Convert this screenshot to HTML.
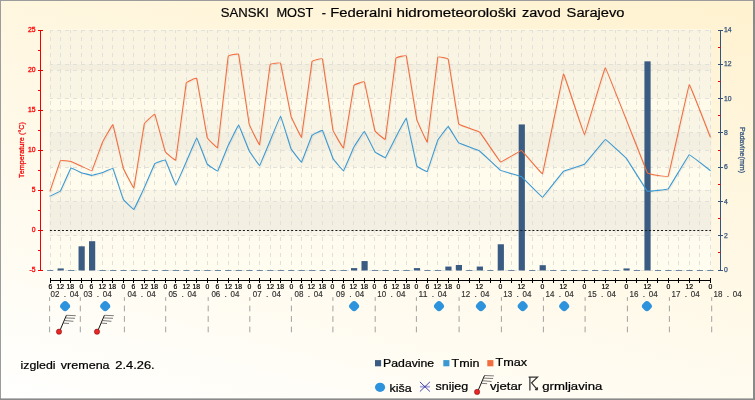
<!DOCTYPE html>
<html><head><meta charset="utf-8"><title>SANSKI MOST</title>
<style>
html,body{margin:0;padding:0;background:#fff;}
body{width:755px;height:400px;overflow:hidden;font-family:"Liberation Sans",sans-serif;}
svg{display:block;font-family:"Liberation Sans",sans-serif;}
</style></head><body>
<svg width="755" height="400" viewBox="0 0 755 400" style="will-change:transform">
<defs>
<linearGradient id="bg" gradientUnits="userSpaceOnUse" x1="0" y1="400" x2="138.1" y2="-153.7">
<stop offset="0" stop-color="#fffffe"/><stop offset="1" stop-color="#fff2d0"/></linearGradient>
<linearGradient id="pbg" x1="0" y1="0" x2="0" y2="1"><stop offset="0" stop-color="#fffae8"/><stop offset="1" stop-color="#fffcf0"/></linearGradient>
</defs>

<rect x="0" y="0" width="755" height="400" fill="url(#bg)"/>
<rect x="0" y="0" width="755" height="1" fill="#9c9c9c"/>
<rect x="0" y="0" width="1" height="400" fill="#9c9c9c"/>
<rect x="753" y="0" width="2" height="400" fill="#8a8a8a"/>
<rect x="0" y="398.4" width="755" height="1.6" fill="#8a8a8a"/>
<g>
<rect x="49.7" y="29.2" width="661.6" height="241.3" fill="url(#pbg)"/>
<rect x="49.7" y="30.0" width="661.6" height="40" fill="rgba(110,110,100,0.04)"/>
<rect x="49.7" y="110.0" width="661.6" height="40" fill="rgba(110,110,100,0.04)"/>
<rect x="49.7" y="190.0" width="661.6" height="40" fill="rgba(110,110,100,0.04)"/>
<rect x="49.7" y="64.29" width="661.6" height="34.29" fill="rgba(110,110,100,0.04)"/>
<rect x="49.7" y="132.86" width="661.6" height="34.29" fill="rgba(110,110,100,0.04)"/>
<rect x="49.7" y="201.43" width="661.6" height="34.29" fill="rgba(110,110,100,0.04)"/>
</g>
<g stroke="#e1e0d9" stroke-width="1" fill="none" stroke-dasharray="4 4" stroke-dashoffset="1">
<path d="M50.5 30 V270"/>
<path d="M60.5 30 V270"/>
<path d="M70.5 30 V270"/>
<path d="M81.5 30 V270"/>
<path d="M91.5 30 V270"/>
<path d="M102.5 30 V270"/>
<path d="M112.5 30 V270"/>
<path d="M123.5 30 V270"/>
<path d="M133.5 30 V270"/>
<path d="M144.5 30 V270"/>
<path d="M154.5 30 V270"/>
<path d="M165.5 30 V270"/>
<path d="M175.5 30 V270"/>
<path d="M186.5 30 V270"/>
<path d="M196.5 30 V270"/>
<path d="M207.5 30 V270"/>
<path d="M217.5 30 V270"/>
<path d="M228.5 30 V270"/>
<path d="M238.5 30 V270"/>
<path d="M249.5 30 V270"/>
<path d="M259.5 30 V270"/>
<path d="M270.5 30 V270"/>
<path d="M280.5 30 V270"/>
<path d="M291.5 30 V270"/>
<path d="M301.5 30 V270"/>
<path d="M311.5 30 V270"/>
<path d="M322.5 30 V270"/>
<path d="M332.5 30 V270"/>
<path d="M343.5 30 V270"/>
<path d="M353.5 30 V270"/>
<path d="M364.5 30 V270"/>
<path d="M374.5 30 V270"/>
<path d="M385.5 30 V270"/>
<path d="M395.5 30 V270"/>
<path d="M406.5 30 V270"/>
<path d="M416.5 30 V270"/>
<path d="M427.5 30 V270"/>
<path d="M437.5 30 V270"/>
<path d="M448.5 30 V270"/>
<path d="M458.5 30 V270"/>
<path d="M469.5 30 V270"/>
<path d="M479.5 30 V270"/>
<path d="M490.5 30 V270"/>
<path d="M500.5 30 V270"/>
<path d="M511.5 30 V270"/>
<path d="M521.5 30 V270"/>
<path d="M532.5 30 V270"/>
<path d="M542.5 30 V270"/>
<path d="M553.5 30 V270"/>
<path d="M563.5 30 V270"/>
<path d="M573.5 30 V270"/>
<path d="M584.5 30 V270"/>
<path d="M594.5 30 V270"/>
<path d="M605.5 30 V270"/>
<path d="M615.5 30 V270"/>
<path d="M626.5 30 V270"/>
<path d="M636.5 30 V270"/>
<path d="M647.5 30 V270"/>
<path d="M657.5 30 V270"/>
<path d="M668.5 30 V270"/>
<path d="M678.5 30 V270"/>
<path d="M689.5 30 V270"/>
<path d="M699.5 30 V270"/>
<path d="M710.5 30 V270"/>
<path d="M50 30.5 H711.1"/>
<path d="M50 64.5 H711.1"/>
<path d="M50 70.5 H711.1"/>
<path d="M50 98.5 H711.1"/>
<path d="M50 110.5 H711.1"/>
<path d="M50 132.5 H711.1"/>
<path d="M50 150.5 H711.1"/>
<path d="M50 167.5 H711.1"/>
<path d="M50 190.5 H711.1"/>
<path d="M50 201.5 H711.1"/>
<path d="M50 230.5 H711.1"/>
<path d="M50 235.5 H711.1"/>
<path d="M50 270.5 H711.1"/>
</g>
<g fill="#3a5b82">
<rect x="47.10" y="270" width="6.2" height="0.8" fill="#4d6c92"/>
<rect x="57.58" y="268.44" width="6.2" height="2.06"/>
<rect x="68.06" y="270" width="6.2" height="0.8" fill="#4d6c92"/>
<rect x="78.54" y="246.33" width="6.2" height="24.17"/>
<rect x="89.02" y="241.19" width="6.2" height="29.31"/>
<rect x="99.50" y="270" width="6.2" height="0.8" fill="#4d6c92"/>
<rect x="109.98" y="270" width="6.2" height="0.8" fill="#4d6c92"/>
<rect x="120.46" y="270" width="6.2" height="0.8" fill="#4d6c92"/>
<rect x="130.93" y="270" width="6.2" height="0.8" fill="#4d6c92"/>
<rect x="141.41" y="270" width="6.2" height="0.8" fill="#4d6c92"/>
<rect x="151.89" y="270" width="6.2" height="0.8" fill="#4d6c92"/>
<rect x="162.37" y="270" width="6.2" height="0.8" fill="#4d6c92"/>
<rect x="172.85" y="270" width="6.2" height="0.8" fill="#4d6c92"/>
<rect x="183.33" y="270" width="6.2" height="0.8" fill="#4d6c92"/>
<rect x="193.81" y="270" width="6.2" height="0.8" fill="#4d6c92"/>
<rect x="204.29" y="270" width="6.2" height="0.8" fill="#4d6c92"/>
<rect x="214.77" y="270" width="6.2" height="0.8" fill="#4d6c92"/>
<rect x="225.25" y="270" width="6.2" height="0.8" fill="#4d6c92"/>
<rect x="235.73" y="270" width="6.2" height="0.8" fill="#4d6c92"/>
<rect x="246.21" y="270" width="6.2" height="0.8" fill="#4d6c92"/>
<rect x="256.69" y="270" width="6.2" height="0.8" fill="#4d6c92"/>
<rect x="267.17" y="270" width="6.2" height="0.8" fill="#4d6c92"/>
<rect x="277.65" y="270" width="6.2" height="0.8" fill="#4d6c92"/>
<rect x="288.13" y="270" width="6.2" height="0.8" fill="#4d6c92"/>
<rect x="298.60" y="270" width="6.2" height="0.8" fill="#4d6c92"/>
<rect x="309.08" y="270" width="6.2" height="0.8" fill="#4d6c92"/>
<rect x="319.56" y="270" width="6.2" height="0.8" fill="#4d6c92"/>
<rect x="330.04" y="270" width="6.2" height="0.8" fill="#4d6c92"/>
<rect x="340.52" y="270" width="6.2" height="0.8" fill="#4d6c92"/>
<rect x="351.00" y="268.10" width="6.2" height="2.40"/>
<rect x="361.48" y="261.07" width="6.2" height="9.43"/>
<rect x="371.96" y="270" width="6.2" height="0.8" fill="#4d6c92"/>
<rect x="382.44" y="270" width="6.2" height="0.8" fill="#4d6c92"/>
<rect x="392.92" y="270" width="6.2" height="0.8" fill="#4d6c92"/>
<rect x="403.40" y="270" width="6.2" height="0.8" fill="#4d6c92"/>
<rect x="413.88" y="268.10" width="6.2" height="2.40"/>
<rect x="424.36" y="270" width="6.2" height="0.8" fill="#4d6c92"/>
<rect x="434.84" y="270" width="6.2" height="0.8" fill="#4d6c92"/>
<rect x="445.32" y="266.56" width="6.2" height="3.94"/>
<rect x="455.80" y="265.01" width="6.2" height="5.49"/>
<rect x="466.27" y="270" width="6.2" height="0.8" fill="#4d6c92"/>
<rect x="476.75" y="266.56" width="6.2" height="3.94"/>
<rect x="487.23" y="270" width="6.2" height="0.8" fill="#4d6c92"/>
<rect x="497.71" y="244.27" width="6.2" height="26.23"/>
<rect x="508.19" y="270" width="6.2" height="0.8" fill="#4d6c92"/>
<rect x="518.67" y="124.44" width="6.2" height="146.06"/>
<rect x="529.15" y="270" width="6.2" height="0.8" fill="#4d6c92"/>
<rect x="539.63" y="265.19" width="6.2" height="5.31"/>
<rect x="550.11" y="270" width="6.2" height="0.8" fill="#4d6c92"/>
<rect x="560.59" y="270" width="6.2" height="0.8" fill="#4d6c92"/>
<rect x="571.07" y="270" width="6.2" height="0.8" fill="#4d6c92"/>
<rect x="581.55" y="270" width="6.2" height="0.8" fill="#4d6c92"/>
<rect x="592.03" y="270" width="6.2" height="0.8" fill="#4d6c92"/>
<rect x="602.51" y="270" width="6.2" height="0.8" fill="#4d6c92"/>
<rect x="612.99" y="270" width="6.2" height="0.8" fill="#4d6c92"/>
<rect x="623.47" y="268.44" width="6.2" height="2.06"/>
<rect x="633.94" y="270" width="6.2" height="0.8" fill="#4d6c92"/>
<rect x="644.42" y="61.36" width="6.2" height="209.14"/>
<rect x="654.90" y="270" width="6.2" height="0.8" fill="#4d6c92"/>
<rect x="665.38" y="270" width="6.2" height="0.8" fill="#4d6c92"/>
<rect x="675.86" y="270" width="6.2" height="0.8" fill="#4d6c92"/>
<rect x="686.34" y="270" width="6.2" height="0.8" fill="#4d6c92"/>
<rect x="696.82" y="270" width="6.2" height="0.8" fill="#4d6c92"/>
<rect x="707.30" y="270" width="6.2" height="0.8" fill="#4d6c92"/>
</g>
<path d="M49.9 230.5 H711.0" stroke="#1a1a1a" stroke-width="1" stroke-dasharray="2 2.021" fill="none"/>
<g fill="none" stroke-linejoin="round" stroke-linecap="round">
<path d="M50.00 196.10 C50.16 196.02 60.16 191.42 60.48 191.00 C60.79 190.58 70.64 168.27 70.96 168.00 C71.27 167.73 81.12 172.59 81.44 172.70 C81.75 172.81 91.60 175.50 91.92 175.50 C92.23 175.50 102.08 172.71 102.40 172.60 C102.71 172.49 112.56 168.00 112.88 168.40 C113.19 168.81 123.04 198.98 123.36 199.60 C123.67 200.22 133.52 209.68 133.83 209.50 C134.15 209.32 144.00 188.29 144.31 187.60 C144.63 186.91 154.48 164.02 154.79 163.60 C155.11 163.18 164.96 159.58 165.27 159.90 C165.59 160.22 175.44 185.17 175.75 185.20 C176.07 185.23 185.92 162.71 186.23 162.00 C186.55 161.29 196.40 137.87 196.71 137.90 C197.03 137.93 206.88 163.60 207.19 164.10 C207.50 164.60 217.36 171.38 217.67 171.10 C217.98 170.82 227.83 146.29 228.15 145.60 C228.46 144.91 238.31 124.72 238.63 124.80 C238.94 124.88 248.79 150.19 249.11 150.80 C249.42 151.41 259.27 165.75 259.59 165.60 C259.90 165.45 269.75 141.74 270.07 141.00 C270.38 140.26 280.23 115.88 280.55 116.00 C280.86 116.12 290.71 148.10 291.03 148.80 C291.34 149.50 301.19 162.60 301.50 162.40 C301.82 162.20 311.67 135.88 311.98 135.40 C312.30 134.92 322.15 129.96 322.46 130.30 C322.78 130.65 332.63 157.79 332.94 158.40 C333.26 159.01 343.11 171.17 343.42 171.00 C343.74 170.83 353.59 147.70 353.90 147.10 C354.22 146.50 364.07 131.13 364.38 131.20 C364.70 131.27 374.55 151.40 374.86 151.80 C375.17 152.20 385.03 157.92 385.34 157.70 C385.65 157.48 395.50 137.79 395.82 137.20 C396.13 136.61 405.98 117.87 406.30 118.30 C406.61 118.73 416.46 165.20 416.78 166.00 C417.09 166.80 426.94 171.99 427.26 171.60 C427.57 171.21 437.42 140.88 437.74 140.20 C438.05 139.52 447.90 126.36 448.22 126.40 C448.53 126.44 458.22 142.53 458.70 142.90 C459.17 143.27 479.03 150.59 479.65 151.00 C480.28 151.41 499.98 170.01 500.61 170.40 C501.24 170.79 520.94 176.40 521.57 176.80 C522.20 177.20 541.90 197.38 542.53 197.30 C543.16 197.22 562.86 171.69 563.49 171.20 C564.12 170.70 583.82 164.78 584.45 164.30 C585.08 163.82 604.78 139.59 605.41 139.50 C606.04 139.41 625.74 157.62 626.37 158.40 C626.99 159.18 646.70 190.74 647.32 191.20 C647.95 191.66 667.65 189.35 668.28 188.80 C668.91 188.25 688.61 154.98 689.24 154.70 C689.87 154.42 709.89 170.16 710.20 170.40" stroke="rgba(0,0,0,0.05)" stroke-width="1.15" transform="translate(1,1)"/>
<path d="M50.00 191.00 C50.16 190.54 60.16 160.94 60.48 160.50 C60.79 160.06 70.64 161.41 70.96 161.50 C71.27 161.59 81.12 166.06 81.44 166.20 C81.75 166.34 91.60 171.06 91.92 170.70 C92.23 170.34 102.08 143.09 102.40 142.40 C102.71 141.71 112.56 124.21 112.88 124.60 C113.19 124.99 123.04 167.55 123.36 168.50 C123.67 169.45 133.52 188.57 133.83 187.90 C134.15 187.23 144.00 124.91 144.31 123.80 C144.63 122.69 154.48 113.78 154.79 114.20 C155.11 114.62 164.96 151.11 165.27 151.80 C165.59 152.49 175.44 161.03 175.75 160.00 C176.07 158.97 185.92 84.12 186.23 82.90 C186.55 81.68 196.40 77.58 196.71 78.40 C197.03 79.22 206.88 136.56 207.19 137.60 C207.50 138.64 217.36 148.72 217.67 147.50 C217.98 146.28 227.83 57.90 228.15 56.50 C228.46 55.10 238.31 53.39 238.63 54.40 C238.94 55.41 248.79 122.64 249.11 124.00 C249.42 125.36 259.27 145.69 259.59 144.80 C259.90 143.91 269.75 66.02 270.07 64.80 C270.38 63.58 280.23 62.43 280.55 63.20 C280.86 63.97 290.71 115.29 291.03 116.40 C291.34 117.51 301.19 138.02 301.50 137.20 C301.82 136.38 311.67 62.77 311.98 61.60 C312.30 60.43 322.15 57.87 322.46 58.90 C322.78 59.93 332.63 128.86 332.94 130.20 C333.26 131.54 343.11 148.67 343.42 148.00 C343.74 147.33 353.59 86.59 353.90 85.60 C354.22 84.61 364.07 81.22 364.38 81.90 C364.70 82.58 374.55 129.94 374.86 130.80 C375.17 131.66 385.03 140.29 385.34 139.20 C385.65 138.11 395.50 59.65 395.82 58.40 C396.13 57.15 405.98 55.08 406.30 56.00 C406.61 56.92 416.46 118.31 416.78 119.60 C417.09 120.89 426.94 142.93 427.26 142.00 C427.57 141.07 437.42 58.54 437.74 57.30 C438.05 56.06 447.90 58.20 448.22 59.20 C448.53 60.20 458.22 122.91 458.70 124.00 C459.17 125.09 479.03 131.43 479.65 132.00 C480.28 132.57 499.98 161.82 500.61 162.10 C501.24 162.38 520.94 150.23 521.57 150.40 C522.20 150.57 541.90 174.75 542.53 173.60 C543.16 172.45 562.86 74.58 563.49 74.00 C564.12 73.42 583.82 134.99 584.45 134.90 C585.08 134.81 604.46 67.33 605.41 67.90 C606.35 68.47 646.38 171.18 647.32 172.80 C648.27 174.42 667.65 177.32 668.28 176.00 C668.91 174.68 688.61 85.29 689.24 84.70 C689.87 84.11 709.89 136.12 710.20 136.90" stroke="rgba(0,0,0,0.05)" stroke-width="1.15" transform="translate(1,1)"/>
<path d="M50.00 196.10 C50.16 196.02 60.16 191.42 60.48 191.00 C60.79 190.58 70.64 168.27 70.96 168.00 C71.27 167.73 81.12 172.59 81.44 172.70 C81.75 172.81 91.60 175.50 91.92 175.50 C92.23 175.50 102.08 172.71 102.40 172.60 C102.71 172.49 112.56 168.00 112.88 168.40 C113.19 168.81 123.04 198.98 123.36 199.60 C123.67 200.22 133.52 209.68 133.83 209.50 C134.15 209.32 144.00 188.29 144.31 187.60 C144.63 186.91 154.48 164.02 154.79 163.60 C155.11 163.18 164.96 159.58 165.27 159.90 C165.59 160.22 175.44 185.17 175.75 185.20 C176.07 185.23 185.92 162.71 186.23 162.00 C186.55 161.29 196.40 137.87 196.71 137.90 C197.03 137.93 206.88 163.60 207.19 164.10 C207.50 164.60 217.36 171.38 217.67 171.10 C217.98 170.82 227.83 146.29 228.15 145.60 C228.46 144.91 238.31 124.72 238.63 124.80 C238.94 124.88 248.79 150.19 249.11 150.80 C249.42 151.41 259.27 165.75 259.59 165.60 C259.90 165.45 269.75 141.74 270.07 141.00 C270.38 140.26 280.23 115.88 280.55 116.00 C280.86 116.12 290.71 148.10 291.03 148.80 C291.34 149.50 301.19 162.60 301.50 162.40 C301.82 162.20 311.67 135.88 311.98 135.40 C312.30 134.92 322.15 129.96 322.46 130.30 C322.78 130.65 332.63 157.79 332.94 158.40 C333.26 159.01 343.11 171.17 343.42 171.00 C343.74 170.83 353.59 147.70 353.90 147.10 C354.22 146.50 364.07 131.13 364.38 131.20 C364.70 131.27 374.55 151.40 374.86 151.80 C375.17 152.20 385.03 157.92 385.34 157.70 C385.65 157.48 395.50 137.79 395.82 137.20 C396.13 136.61 405.98 117.87 406.30 118.30 C406.61 118.73 416.46 165.20 416.78 166.00 C417.09 166.80 426.94 171.99 427.26 171.60 C427.57 171.21 437.42 140.88 437.74 140.20 C438.05 139.52 447.90 126.36 448.22 126.40 C448.53 126.44 458.22 142.53 458.70 142.90 C459.17 143.27 479.03 150.59 479.65 151.00 C480.28 151.41 499.98 170.01 500.61 170.40 C501.24 170.79 520.94 176.40 521.57 176.80 C522.20 177.20 541.90 197.38 542.53 197.30 C543.16 197.22 562.86 171.69 563.49 171.20 C564.12 170.70 583.82 164.78 584.45 164.30 C585.08 163.82 604.78 139.59 605.41 139.50 C606.04 139.41 625.74 157.62 626.37 158.40 C626.99 159.18 646.70 190.74 647.32 191.20 C647.95 191.66 667.65 189.35 668.28 188.80 C668.91 188.25 688.61 154.98 689.24 154.70 C689.87 154.42 709.89 170.16 710.20 170.40" stroke="#3a99d3" stroke-width="1.08"/>
<path d="M50.00 191.00 C50.16 190.54 60.16 160.94 60.48 160.50 C60.79 160.06 70.64 161.41 70.96 161.50 C71.27 161.59 81.12 166.06 81.44 166.20 C81.75 166.34 91.60 171.06 91.92 170.70 C92.23 170.34 102.08 143.09 102.40 142.40 C102.71 141.71 112.56 124.21 112.88 124.60 C113.19 124.99 123.04 167.55 123.36 168.50 C123.67 169.45 133.52 188.57 133.83 187.90 C134.15 187.23 144.00 124.91 144.31 123.80 C144.63 122.69 154.48 113.78 154.79 114.20 C155.11 114.62 164.96 151.11 165.27 151.80 C165.59 152.49 175.44 161.03 175.75 160.00 C176.07 158.97 185.92 84.12 186.23 82.90 C186.55 81.68 196.40 77.58 196.71 78.40 C197.03 79.22 206.88 136.56 207.19 137.60 C207.50 138.64 217.36 148.72 217.67 147.50 C217.98 146.28 227.83 57.90 228.15 56.50 C228.46 55.10 238.31 53.39 238.63 54.40 C238.94 55.41 248.79 122.64 249.11 124.00 C249.42 125.36 259.27 145.69 259.59 144.80 C259.90 143.91 269.75 66.02 270.07 64.80 C270.38 63.58 280.23 62.43 280.55 63.20 C280.86 63.97 290.71 115.29 291.03 116.40 C291.34 117.51 301.19 138.02 301.50 137.20 C301.82 136.38 311.67 62.77 311.98 61.60 C312.30 60.43 322.15 57.87 322.46 58.90 C322.78 59.93 332.63 128.86 332.94 130.20 C333.26 131.54 343.11 148.67 343.42 148.00 C343.74 147.33 353.59 86.59 353.90 85.60 C354.22 84.61 364.07 81.22 364.38 81.90 C364.70 82.58 374.55 129.94 374.86 130.80 C375.17 131.66 385.03 140.29 385.34 139.20 C385.65 138.11 395.50 59.65 395.82 58.40 C396.13 57.15 405.98 55.08 406.30 56.00 C406.61 56.92 416.46 118.31 416.78 119.60 C417.09 120.89 426.94 142.93 427.26 142.00 C427.57 141.07 437.42 58.54 437.74 57.30 C438.05 56.06 447.90 58.20 448.22 59.20 C448.53 60.20 458.22 122.91 458.70 124.00 C459.17 125.09 479.03 131.43 479.65 132.00 C480.28 132.57 499.98 161.82 500.61 162.10 C501.24 162.38 520.94 150.23 521.57 150.40 C522.20 150.57 541.90 174.75 542.53 173.60 C543.16 172.45 562.86 74.58 563.49 74.00 C564.12 73.42 583.82 134.99 584.45 134.90 C585.08 134.81 604.46 67.33 605.41 67.90 C606.35 68.47 646.38 171.18 647.32 172.80 C648.27 174.42 667.65 177.32 668.28 176.00 C668.91 174.68 688.61 85.29 689.24 84.70 C689.87 84.11 709.89 136.12 710.20 136.90" stroke="#f36d3e" stroke-width="1.08"/>
</g>
<g stroke="#f00000" stroke-width="1" fill="none">
<path d="M40.5 30 V271"/>
<path d="M38 30.5 H43"/>
<path d="M38 70.5 H43"/>
<path d="M38 110.5 H43"/>
<path d="M38 150.5 H43"/>
<path d="M38 190.5 H43"/>
<path d="M38 230.5 H43"/>
<path d="M38 270.5 H43"/>
<path d="M38 50.5 H40.5"/>
<path d="M38 90.5 H40.5"/>
<path d="M38 130.5 H40.5"/>
<path d="M38 170.5 H40.5"/>
<path d="M38 210.5 H40.5"/>
<path d="M38 250.5 H40.5"/>
</g>
<g fill="#ff0000" stroke="#ff0000" stroke-width="0.3" font-size="6.8" text-anchor="end">
<text x="35.6" y="32.1">25</text>
<text x="35.6" y="72.1">20</text>
<text x="35.6" y="112.1">15</text>
<text x="35.6" y="152.1">10</text>
<text x="35.6" y="192.1">5</text>
<text x="35.6" y="232.1">0</text>
<text x="35.6" y="272.1">-5</text>
</g>
<text transform="translate(24.2,150) rotate(-90)" text-anchor="middle" font-size="7.2" fill="#f00000" stroke="#f00000" stroke-width="0.25" textLength="56" lengthAdjust="spacing">Temperature (°C)</text>
<g stroke="#34547c" stroke-width="1" fill="none">
<path d="M720.5 30 V271"/>
<path d="M718 30.5 H723"/>
<path d="M718 64.5 H723"/>
<path d="M718 98.5 H723"/>
<path d="M718 132.5 H723"/>
<path d="M718 167.5 H723"/>
<path d="M718 201.5 H723"/>
<path d="M718 235.5 H723"/>
<path d="M718 270.5 H723"/>
</g>
<g stroke="#f00000" stroke-width="1" fill="none">
<path d="M718 47.5 H720.5"/>
<path d="M718 81.5 H720.5"/>
<path d="M718 115.5 H720.5"/>
<path d="M718 150.5 H720.5"/>
<path d="M718 184.5 H720.5"/>
<path d="M718 218.5 H720.5"/>
<path d="M718 252.5 H720.5"/>
</g>
<g fill="#34547c" stroke="#34547c" stroke-width="0.25" font-size="6.8">
<text x="724.1" y="32.10">14</text>
<text x="724.1" y="66.39">12</text>
<text x="724.1" y="100.67">10</text>
<text x="724.1" y="134.96">8</text>
<text x="724.1" y="169.24">6</text>
<text x="724.1" y="203.53">4</text>
<text x="724.1" y="237.81">2</text>
<text x="724.1" y="272.10">0</text>
</g>
<text transform="translate(739.6,150) rotate(90)" text-anchor="middle" font-size="7" fill="#34547c" stroke="#34547c" stroke-width="0.25" textLength="46" lengthAdjust="spacing">Padavine(mm)</text>
<g stroke="#000" stroke-width="1" fill="none">
<path d="M50.0 280.5 H711.0"/>
<path d="M50.5 278 V283"/>
<path d="M60.5 278 V283"/>
<path d="M70.5 278 V283"/>
<path d="M81.5 278 V283"/>
<path d="M91.5 278 V283"/>
<path d="M102.5 278 V283"/>
<path d="M112.5 278 V283"/>
<path d="M123.5 278 V283"/>
<path d="M133.5 278 V283"/>
<path d="M144.5 278 V283"/>
<path d="M154.5 278 V283"/>
<path d="M165.5 278 V283"/>
<path d="M175.5 278 V283"/>
<path d="M186.5 278 V283"/>
<path d="M196.5 278 V283"/>
<path d="M207.5 278 V283"/>
<path d="M217.5 278 V283"/>
<path d="M228.5 278 V283"/>
<path d="M238.5 278 V283"/>
<path d="M249.5 278 V283"/>
<path d="M259.5 278 V283"/>
<path d="M270.5 278 V283"/>
<path d="M280.5 278 V283"/>
<path d="M291.5 278 V283"/>
<path d="M301.5 278 V283"/>
<path d="M311.5 278 V283"/>
<path d="M322.5 278 V283"/>
<path d="M332.5 278 V283"/>
<path d="M343.5 278 V283"/>
<path d="M353.5 278 V283"/>
<path d="M364.5 278 V283"/>
<path d="M374.5 278 V283"/>
<path d="M385.5 278 V283"/>
<path d="M395.5 278 V283"/>
<path d="M406.5 278 V283"/>
<path d="M416.5 278 V283"/>
<path d="M427.5 278 V283"/>
<path d="M437.5 278 V283"/>
<path d="M448.5 278 V283"/>
<path d="M458.5 278 V283"/>
<path d="M469.5 278 V283"/>
<path d="M479.5 278 V283"/>
<path d="M490.5 278 V283"/>
<path d="M500.5 278 V283"/>
<path d="M511.5 278 V283"/>
<path d="M521.5 278 V283"/>
<path d="M532.5 278 V283"/>
<path d="M542.5 278 V283"/>
<path d="M553.5 278 V283"/>
<path d="M563.5 278 V283"/>
<path d="M573.5 278 V283"/>
<path d="M584.5 278 V283"/>
<path d="M594.5 278 V283"/>
<path d="M605.5 278 V283"/>
<path d="M615.5 278 V283"/>
<path d="M626.5 278 V283"/>
<path d="M636.5 278 V283"/>
<path d="M647.5 278 V283"/>
<path d="M657.5 278 V283"/>
<path d="M668.5 278 V283"/>
<path d="M678.5 278 V283"/>
<path d="M689.5 278 V283"/>
<path d="M699.5 278 V283"/>
<path d="M710.5 278 V283"/>
</g>
<g fill="#000" stroke="#000" stroke-width="0.2" font-size="6.8" text-anchor="middle">
<text x="50.30" y="289">6</text>
<text x="60.30" y="289">12</text>
<text x="70.30" y="289">18</text>
<text x="81.30" y="289">0</text>
<text x="91.30" y="289">6</text>
<text x="102.30" y="289">12</text>
<text x="112.30" y="289">18</text>
<text x="123.30" y="289">0</text>
<text x="133.30" y="289">6</text>
<text x="144.30" y="289">12</text>
<text x="154.30" y="289">18</text>
<text x="165.30" y="289">0</text>
<text x="175.30" y="289">6</text>
<text x="186.30" y="289">12</text>
<text x="196.30" y="289">18</text>
<text x="207.30" y="289">0</text>
<text x="217.30" y="289">6</text>
<text x="228.30" y="289">12</text>
<text x="238.30" y="289">18</text>
<text x="249.30" y="289">0</text>
<text x="259.30" y="289">6</text>
<text x="270.30" y="289">12</text>
<text x="280.30" y="289">18</text>
<text x="291.30" y="289">0</text>
<text x="301.30" y="289">6</text>
<text x="311.30" y="289">12</text>
<text x="322.30" y="289">18</text>
<text x="332.30" y="289">0</text>
<text x="343.30" y="289">6</text>
<text x="353.30" y="289">12</text>
<text x="364.30" y="289">18</text>
<text x="374.30" y="289">0</text>
<text x="385.30" y="289">6</text>
<text x="395.30" y="289">12</text>
<text x="406.30" y="289">18</text>
<text x="416.30" y="289">0</text>
<text x="427.30" y="289">6</text>
<text x="437.30" y="289">12</text>
<text x="448.30" y="289">18</text>
<text x="458.30" y="289">0</text>
<text x="479.30" y="289">12</text>
<text x="500.30" y="289">0</text>
<text x="521.30" y="289">12</text>
<text x="542.30" y="289">0</text>
<text x="563.30" y="289">12</text>
<text x="584.30" y="289">0</text>
<text x="605.30" y="289">12</text>
<text x="626.30" y="289">0</text>
<text x="647.30" y="289">12</text>
<text x="668.30" y="289">0</text>
<text x="689.30" y="289">12</text>
<text x="710.30" y="289">0</text>
</g>
<g fill="#303030" stroke="#303030" stroke-width="0.15" font-size="8.4">
<text x="50.5" y="297.1" textLength="8.9" lengthAdjust="spacingAndGlyphs">02</text><text x="63.7" y="297.1">.</text><text x="69.7" y="297.1" textLength="8.9" lengthAdjust="spacingAndGlyphs">04</text>
<text x="83.5" y="297.1" textLength="8.9" lengthAdjust="spacingAndGlyphs">03</text><text x="96.7" y="297.1">.</text><text x="102.7" y="297.1" textLength="8.9" lengthAdjust="spacingAndGlyphs">04</text>
<text x="127.6" y="297.1" textLength="8.9" lengthAdjust="spacingAndGlyphs">04</text><text x="140.8" y="297.1">.</text><text x="146.8" y="297.1" textLength="8.9" lengthAdjust="spacingAndGlyphs">04</text>
<text x="168.4" y="297.1" textLength="8.9" lengthAdjust="spacingAndGlyphs">05</text><text x="181.6" y="297.1">.</text><text x="187.6" y="297.1" textLength="8.9" lengthAdjust="spacingAndGlyphs">04</text>
<text x="211.4" y="297.1" textLength="8.9" lengthAdjust="spacingAndGlyphs">06</text><text x="224.6" y="297.1">.</text><text x="230.6" y="297.1" textLength="8.9" lengthAdjust="spacingAndGlyphs">04</text>
<text x="252.8" y="297.1" textLength="8.9" lengthAdjust="spacingAndGlyphs">07</text><text x="266.0" y="297.1">.</text><text x="272.0" y="297.1" textLength="8.9" lengthAdjust="spacingAndGlyphs">04</text>
<text x="294.5" y="297.1" textLength="8.9" lengthAdjust="spacingAndGlyphs">08</text><text x="307.7" y="297.1">.</text><text x="313.7" y="297.1" textLength="8.9" lengthAdjust="spacingAndGlyphs">04</text>
<text x="336.0" y="297.1" textLength="8.9" lengthAdjust="spacingAndGlyphs">09</text><text x="349.2" y="297.1">.</text><text x="355.2" y="297.1" textLength="8.9" lengthAdjust="spacingAndGlyphs">04</text>
<text x="377.3" y="297.1" textLength="8.9" lengthAdjust="spacingAndGlyphs">10</text><text x="390.5" y="297.1">.</text><text x="396.5" y="297.1" textLength="8.9" lengthAdjust="spacingAndGlyphs">04</text>
<text x="418.5" y="297.1" textLength="8.9" lengthAdjust="spacingAndGlyphs">11</text><text x="431.7" y="297.1">.</text><text x="437.7" y="297.1" textLength="8.9" lengthAdjust="spacingAndGlyphs">04</text>
<text x="461.3" y="297.1" textLength="8.9" lengthAdjust="spacingAndGlyphs">12</text><text x="474.5" y="297.1">.</text><text x="480.5" y="297.1" textLength="8.9" lengthAdjust="spacingAndGlyphs">04</text>
<text x="503.3" y="297.1" textLength="8.9" lengthAdjust="spacingAndGlyphs">13</text><text x="516.5" y="297.1">.</text><text x="522.5" y="297.1" textLength="8.9" lengthAdjust="spacingAndGlyphs">04</text>
<text x="545.6" y="297.1" textLength="8.9" lengthAdjust="spacingAndGlyphs">14</text><text x="558.8" y="297.1">.</text><text x="564.8" y="297.1" textLength="8.9" lengthAdjust="spacingAndGlyphs">04</text>
<text x="587.8" y="297.1" textLength="8.9" lengthAdjust="spacingAndGlyphs">15</text><text x="601.0" y="297.1">.</text><text x="607.0" y="297.1" textLength="8.9" lengthAdjust="spacingAndGlyphs">04</text>
<text x="629.5" y="297.1" textLength="8.9" lengthAdjust="spacingAndGlyphs">16</text><text x="642.7" y="297.1">.</text><text x="648.7" y="297.1" textLength="8.9" lengthAdjust="spacingAndGlyphs">04</text>
<text x="671.5" y="297.1" textLength="8.9" lengthAdjust="spacingAndGlyphs">17</text><text x="684.7" y="297.1">.</text><text x="690.7" y="297.1" textLength="8.9" lengthAdjust="spacingAndGlyphs">04</text>
<text x="713.6" y="297.1" textLength="8.9" lengthAdjust="spacingAndGlyphs">18</text><text x="726.8" y="297.1">.</text><text x="732.8" y="297.1" textLength="8.9" lengthAdjust="spacingAndGlyphs">04</text>
</g>
<g stroke="#8a8a8a" stroke-width="0.8" fill="none" stroke-dasharray="5.8 4.7" stroke-dashoffset="2.1">
<path d="M49.6 297.2 V332.3"/>
<path d="M80.3 297.2 V332.3"/>
<path d="M124.4 297.2 V332.3"/>
<path d="M165.7 297.2 V332.3"/>
<path d="M208.2 297.2 V332.3"/>
<path d="M249.8 297.2 V332.3"/>
<path d="M291.4 297.2 V332.3"/>
<path d="M332.9 297.2 V332.3"/>
<path d="M375.2 297.2 V332.3"/>
<path d="M416.4 297.2 V332.3"/>
<path d="M459.1 297.2 V332.3"/>
<path d="M501.4 297.2 V332.3"/>
<path d="M543.4 297.2 V332.3"/>
<path d="M585.1 297.2 V332.3"/>
<path d="M627.4 297.2 V332.3"/>
<path d="M669.4 297.2 V332.3"/>
<path d="M711.7 297.2 V332.3"/>
</g>
<rect x="-4.5" y="-4.5" width="9" height="9" rx="3.5" ry="3.5" transform="translate(65.1,306.1) rotate(45)" fill="#2e93dd"/>
<rect x="-4.5" y="-4.5" width="9" height="9" rx="3.5" ry="3.5" transform="translate(105.2,306.1) rotate(45)" fill="#2e93dd"/>
<rect x="-4.5" y="-4.5" width="9" height="9" rx="3.5" ry="3.5" transform="translate(354.1,306.1) rotate(45)" fill="#2e93dd"/>
<rect x="-4.5" y="-4.5" width="9" height="9" rx="3.5" ry="3.5" transform="translate(439.0,306.1) rotate(45)" fill="#2e93dd"/>
<rect x="-4.5" y="-4.5" width="9" height="9" rx="3.5" ry="3.5" transform="translate(480.9,306.1) rotate(45)" fill="#2e93dd"/>
<rect x="-4.5" y="-4.5" width="9" height="9" rx="3.5" ry="3.5" transform="translate(522.7,306.1) rotate(45)" fill="#2e93dd"/>
<rect x="-4.5" y="-4.5" width="9" height="9" rx="3.5" ry="3.5" transform="translate(564.2,306.1) rotate(45)" fill="#2e93dd"/>
<rect x="-4.5" y="-4.5" width="9" height="9" rx="3.5" ry="3.5" transform="translate(646.9,306.1) rotate(45)" fill="#2e93dd"/>
<g transform="translate(59.0,331.7)"><path d="M1.2 -1.8 L7.4 -16.4" stroke="#111" stroke-width="1" fill="none"/><path d="M7.4 -16.4 L16.8 -16 M6.4 -13.8 L16 -13.4 M5.2 -11.2 L14.4 -10.4 M4.2 -8.6 L10 -8.2" stroke="#444" stroke-width="0.7" fill="none"/><circle cx="0" cy="0" r="2.6" fill="#f02424" stroke="#7a1010" stroke-width="0.6"/></g>
<g transform="translate(97.0,331.7)"><path d="M1.2 -1.8 L7.4 -16.4" stroke="#111" stroke-width="1" fill="none"/><path d="M7.4 -16.4 L16.8 -16 M6.4 -13.8 L16 -13.4 M5.2 -11.2 L14.4 -10.4 M4.2 -8.6 L10 -8.2" stroke="#444" stroke-width="0.7" fill="none"/><circle cx="0" cy="0" r="2.6" fill="#f02424" stroke="#7a1010" stroke-width="0.6"/></g>
<g font-size="12.5" fill="#000" stroke="#000" stroke-width="0.2">
<text x="220.8" y="17" textLength="48.1" lengthAdjust="spacingAndGlyphs">SANSKI</text>
<text x="276.4" y="17" textLength="37.0" lengthAdjust="spacingAndGlyphs">MOST</text>
<text x="321.8" y="17" textLength="4.2" lengthAdjust="spacingAndGlyphs">-</text>
<text x="330.3" y="17" textLength="61.8" lengthAdjust="spacingAndGlyphs">Federalni</text>
<text x="396.5" y="17" textLength="119.7" lengthAdjust="spacingAndGlyphs">hidrometeorološki</text>
<text x="522.0" y="17" textLength="38.7" lengthAdjust="spacingAndGlyphs">zavod</text>
<text x="566.6" y="17" textLength="57.9" lengthAdjust="spacingAndGlyphs">Sarajevo</text>
</g>
<g font-size="11.6" fill="#000" stroke="#000" stroke-width="0.22">
<text x="20.6" y="368.6" textLength="35.0" lengthAdjust="spacingAndGlyphs">izgledi</text>
<text x="60.8" y="368.6" textLength="48.8" lengthAdjust="spacingAndGlyphs">vremena</text>
<text x="115.3" y="368.6" textLength="39.4" lengthAdjust="spacingAndGlyphs">2.4.26.</text>
</g>
<rect x="375" y="360.1" width="6.1" height="6.2" fill="#3a5b82"/>
<text x="383.1" y="367.1" font-size="11.5" fill="#000" stroke="#000" stroke-width="0.22" textLength="51.1" lengthAdjust="spacingAndGlyphs">Padavine</text>
<rect x="443.3" y="360.1" width="6.1" height="6.2" fill="#3a99d3"/>
<text x="451.6" y="367.1" font-size="11.5" fill="#000" stroke="#000" stroke-width="0.22" textLength="27.8" lengthAdjust="spacingAndGlyphs">Tmin</text>
<rect x="487.3" y="360.1" width="6.1" height="6.2" fill="#f36d3e"/>
<text x="495.6" y="365.6" font-size="11.5" fill="#000" stroke="#000" stroke-width="0.22" textLength="31.6" lengthAdjust="spacingAndGlyphs">Tmax</text>
<ellipse cx="380.05" cy="387.35" rx="5.05" ry="4.6" fill="#2e93dd"/>
<text x="389.4" y="391.5" font-size="11.5" fill="#000" stroke="#000" stroke-width="0.22" textLength="22.2" lengthAdjust="spacingAndGlyphs">kiša</text>
<path d="M419.9 386.7 H429.9" stroke="#a9a9dc" stroke-width="1.8" fill="none"/><path d="M419.9 381.9 L429.9 391.5 M429.9 381.9 L419.9 391.5" stroke="#2c2c9c" stroke-width="0.9" fill="none"/>
<text x="435.5" y="390.3" font-size="11.5" fill="#000" stroke="#000" stroke-width="0.22" textLength="32.7" lengthAdjust="spacingAndGlyphs">snijeg</text>
<g transform="translate(477.1,391.9)"><path d="M1.2 -1.8 L7.4 -16.4" stroke="#111" stroke-width="1" fill="none"/><path d="M7.4 -16.4 L16.8 -16 M6.4 -13.8 L16 -13.4 M5.2 -11.2 L14.4 -10.4 M4.2 -8.6 L10 -8.2" stroke="#444" stroke-width="0.7" fill="none"/><circle cx="0" cy="0" r="2.6" fill="#f02424" stroke="#7a1010" stroke-width="0.6"/></g>
<text x="490" y="390.2" font-size="11.5" fill="#000" stroke="#000" stroke-width="0.22" textLength="32.2" lengthAdjust="spacingAndGlyphs">vjetar</text>
<path d="M529.9 390.4 V377.1 M528.6 377.1 H537.5 L531.6 382.9 L537.5 389.9 M537.5 389.9 L537.3 387.2 M537.5 389.9 L535 389.4" stroke="#333" stroke-width="1.25" fill="none"/>
<text x="542.3" y="390.2" font-size="11.5" fill="#000" stroke="#000" stroke-width="0.22" textLength="60" lengthAdjust="spacingAndGlyphs">grmljavina</text>
</svg></body></html>
